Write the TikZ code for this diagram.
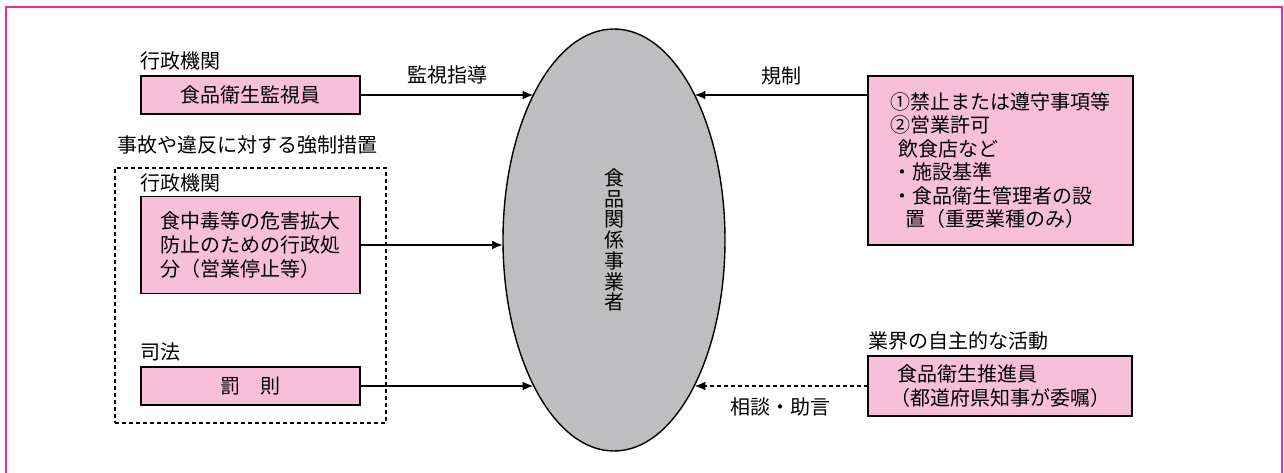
\documentclass[tikz,border=0pt]{standalone}
\usepackage{fontspec}
\setmainfont{Noto Sans CJK JP}
\usetikzlibrary{shapes.geometric,arrows.meta}
\definecolor{boxpink}{RGB}{247,192,216}
\definecolor{framepink}{RGB}{236,40,150}
\definecolor{ellgray}{RGB}{190,190,192}
\begin{document}
\begin{tikzpicture}[x=1pt,y=-1pt,
  font=\fontsize{20}{24}\selectfont,
  pbox/.style={draw, line width=1.4pt, fill=boxpink, inner sep=0pt, outer sep=0pt},
  lbl/.style={inner sep=0pt, anchor=west},
  plain/.style={inner sep=0pt},
  arr/.style={-{Latex[length=11pt,width=9pt]}, line width=2pt},
  grpbox/.style={draw, line width=1.3pt, dash pattern=on 4pt off 3pt, inner sep=0pt}]
\useasboundingbox (0,0) rectangle (1284,473);
% frame
\draw[framepink, line width=2pt] (6,473) -- (6,7) -- (1282,7) -- (1282,473);
% central ellipse
\node[ellipse, draw, line width=1.4pt, fill=ellgray, minimum width=222pt, minimum height=422pt,
  inner sep=0pt, align=center, font=\fontsize{20}{20.7}\selectfont] (e) at (614,240)
  {食\\品\\関\\係\\事\\業\\者};
% group box
\node[grpbox, minimum width=271pt, minimum height=255pt] (grp) at (250.5,295.5) {};
% left boxes
\node[pbox, minimum width=219pt, minimum height=38pt] (b1) at (250.5,95) {食品衛生監視員};
\node[pbox, minimum width=219pt, minimum height=97pt, align=left] (b2) at (250.5,245)
  {食中毒等の危害拡大\\防止のための行政処\\分（営業停止等）};
\node[pbox, minimum width=219pt, minimum height=38pt] (b3) at (250.5,386) {罰　則};
% right boxes
\node[pbox, minimum width=265pt, minimum height=169pt, align=left,
  font=\fontsize{20}{23.5}\selectfont] (r1) at (1000.5,160.5)
  {①禁止または遵守事項等\\②営業許可\\\hspace*{8pt}飲食店など\\\hspace*{2pt}・施設基準\\\hspace*{2pt}・食品衛生管理者の設\\\hspace*{15pt}置（重要業種のみ）};
\node[pbox, minimum width=264pt, minimum height=60pt, align=left] (r2) at (1000,386)
  {\hspace*{7pt}食品衛生推進員\\（都道府県知事が委嘱）};
% labels
\node[lbl] (la1) at (140,61) {行政機関};
\node[plain] (la2) at (447,75) {監視指導};
\node[plain] (la3) at (781,76) {規制};
\node[lbl] (la4) at (117,145) {事故や違反に対する強制措置};
\node[lbl] (la5) at (140,183) {行政機関};
\node[lbl] (la6) at (140,352) {司法};
\node[lbl] (la7) at (868,341) {業界の自主的な活動};
\node[plain] (la8) at (780,407) {相談・助言};
% arrow tips on the ellipse border
\coordinate (t1) at (533.6,95);
\coordinate (t2) at (503,245);
\coordinate (t3) at (533.6,386);
\coordinate (t4) at (694.4,95);
\coordinate (t5) at (694.4,386);
\draw[arr] (b1.east) -- (t1);
\draw[arr] (b2.east) -- (t2);
\draw[arr] (b3.east) -- (t3);
\draw[arr] (r1.west |- t4) -- (t4);
\draw[arr, dash pattern=on 4pt off 3pt] (r2.west) -- (t5);
\end{tikzpicture}
\end{document}
